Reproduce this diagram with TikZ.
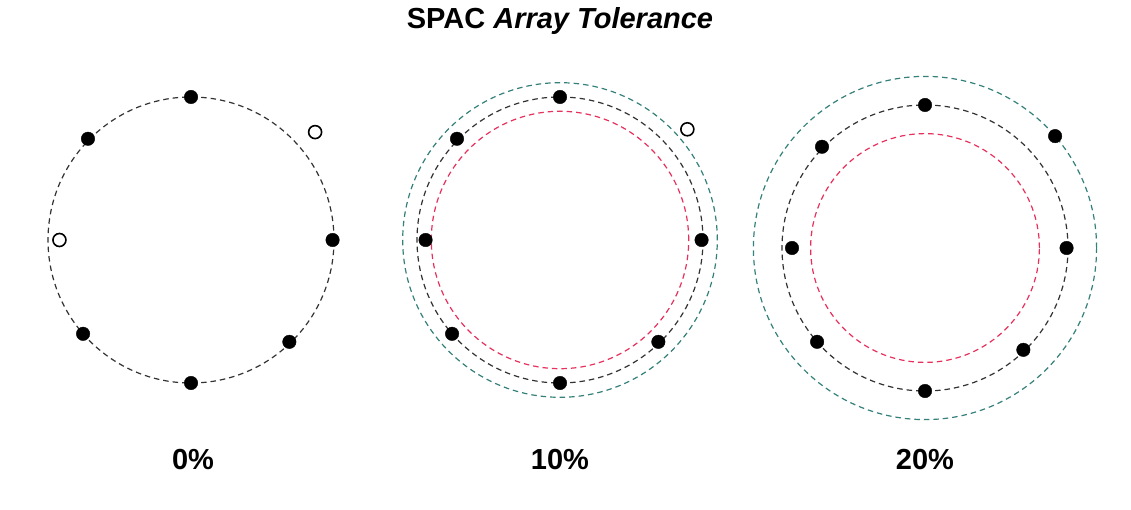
\documentclass[tikz,border=0pt]{standalone}
\usepackage{fontspec}
\setmainfont{Liberation Sans}
\usepackage{xcolor}
\usepackage{tikz}
\usetikzlibrary{positioning}
\definecolor{tolred}{RGB}{232,48,92}
\definecolor{tolgreen}{RGB}{52,128,122}
\definecolor{ringgray}{RGB}{50,50,50}

\begin{document}
\begin{tikzpicture}[x=1pt,y=1pt,
    dot/.style={draw,fill,circle,inner sep=0pt,minimum size=13.5pt},
    hollow/.style={draw,fill=white,circle,inner sep=0pt,minimum size=13pt,line width=1.6pt},
    refring/.style={dash pattern=on 5.5pt off 4pt,line width=1.2pt},
    lbl/.style={font=\fontsize{29}{29}\selectfont\bfseries,anchor=base}]
        \fill[white] (0,0) rectangle (1131,509);
        \def\R{143}
        \coordinate (A) at (191,269);
        \coordinate (B) at (560,269);
        \coordinate (C) at (925,261);
        \coordinate (base) at (0,40);
        % reference ring, then the tolerance band round it
        \draw[refring,ringgray] (A) circle[radius=\R];
        \draw[refring,tolgreen] (B) circle[radius=1.1*\R];
        \draw[refring,ringgray] (B) circle[radius=\R];
        \draw[refring,tolred] (B) circle[radius=0.9*\R];
        \draw[refring,tolgreen] (C) circle[radius=1.2*\R];
        \draw[refring,ringgray] (C) circle[radius=\R];
        \draw[refring,tolred] (C) circle[radius=0.8*\R];
        % sensors that sit on the ring
        \foreach \p in {A,B,C}{
          \foreach \ang/\f [count=\i] in {90/1,135.5/1.01,0/0.99,221/1,314/0.99,270/1}
            \node[dot] (\p\i) at ([shift={(\ang:\f*\R)}]\p) {};
        }
        % the two off-ring sensors
        \node[hollow] (A7) at ([shift={(41:1.15*\R)}]A) {};
        \node[hollow] (A8) at ([shift={(180:0.92*\R)}]A) {};
        \node[hollow] (B7) at ([shift={(41:1.18*\R)}]B) {};
        \node[dot] (B8) at ([shift={(180:0.94*\R)}]B) {};
        \node[dot] (C7) at ([shift={(40.7:1.2*\R)}]C) {};
        \node[dot] (C8) at ([shift={(180:0.93*\R)}]C) {};
        \node[lbl] (title) at (560,480) {SPAC \textit{Array Tolerance}};
        \node[lbl] (capA) at ([xshift=2pt]A |- base) {0\%};
        \node[lbl] (capB) at (B |- base) {10\%};
        \node[lbl] (capC) at (C |- base) {20\%};
      \end{tikzpicture}
\end{document}
